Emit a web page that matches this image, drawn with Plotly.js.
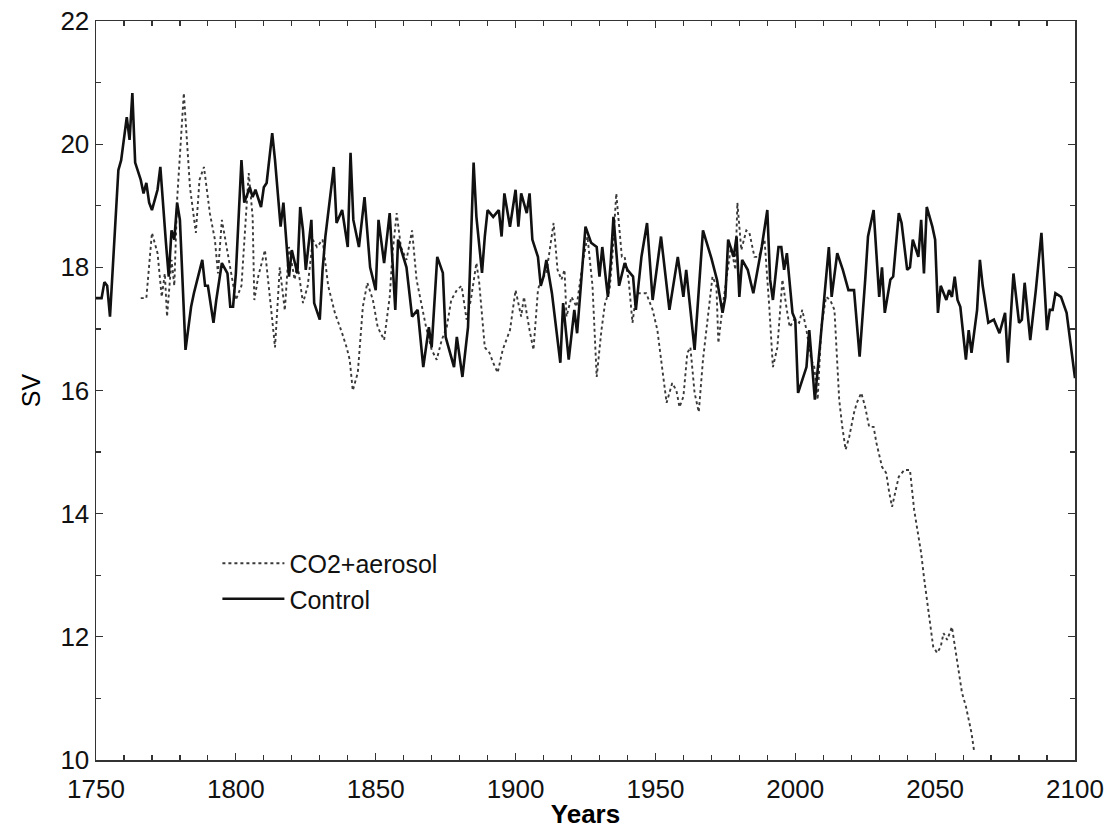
<!DOCTYPE html>
<html>
<head>
<meta charset="utf-8">
<script src="https://cdn.plot.ly/plotly-3.0.1.min.js"></script>
<style>html,body{margin:0;padding:0;background:#fff;}#chart{width:1110px;height:829px;}</style>
</head>
<body>
<div id="chart"></div>
<script>
// Control run (solid)
var controlYears = [1750,1752,1753,1754,1755,1757,1758,1759,1761,1762,1763,1764,1766,1767,1768,1769,1770,1772,1773,1775,1776,1777,1778,1779,1780,1782,1784,1785,1788,1789,1790,1792,1793,1795,1797,1798,1799,1800,1801,1802,1803,1805,1806,1807,1809,1810,1811,1813,1814,1816,1817,1819,1820,1822,1823,1824,1825,1827,1828,1830,1831,1832,1835,1836,1838,1840,1841,1842,1844,1846,1848,1850,1851,1853,1855,1857,1858,1860,1861,1863,1865,1867,1869,1870,1872,1874,1875,1878,1879,1881,1883,1885,1886,1888,1889,1890,1892,1894,1895,1896,1898,1900,1901,1902,1904,1905,1906,1908,1909,1910,1911,1913,1916,1917,1919,1921,1922,1925,1927,1929,1930,1931,1933,1934,1935,1937,1939,1940,1942,1943,1945,1947,1949,1952,1955,1958,1960,1961,1964,1967,1970,1972,1974,1975,1976,1978,1979,1980,1981,1983,1985,1988,1990,1991,1992,1994,1995,1996,1997,1999,2000,2001,2004,2005,2007,2009,2011,2012,2013,2015,2017,2019,2021,2023,2025,2026,2028,2030,2031,2032,2034,2035,2037,2038,2040,2041,2042,2044,2045,2046,2047,2049,2050,2051,2052,2054,2055,2056,2057,2058,2059,2061,2062,2063,2065,2066,2067,2069,2071,2073,2075,2076,2078,2080,2081,2082,2084,2086,2088,2090,2091,2092,2093,2095,2097,2099,2100];
var controlSV = [17.5,17.5,17.76,17.7,17.2,18.66,19.58,19.74,20.44,20.07,20.83,19.7,19.42,19.2,19.37,19.05,18.93,19.26,19.63,18.4,17.85,18.6,18.45,19.05,18.77,16.66,17.36,17.58,18.12,17.7,17.7,17.1,17.47,18.07,17.9,17.36,17.36,17.9,18.72,19.74,19.05,19.3,19.14,19.26,18.98,19.3,19.37,20.18,19.74,18.66,19.05,17.85,18.28,17.9,18.98,18.6,17.96,18.77,17.42,17.15,17.96,18.5,19.63,18.72,18.93,18.33,19.86,18.77,18.33,19.14,18.0,17.63,18.77,18.07,18.88,17.31,18.45,18.12,18.0,17.2,17.31,16.38,17.03,16.7,18.17,17.91,16.87,16.38,16.87,16.22,17.03,19.7,18.82,17.91,18.5,18.93,18.82,18.93,18.5,19.2,18.66,19.26,18.66,19.2,18.88,19.2,18.45,18.17,17.7,17.85,18.12,17.58,16.45,17.42,16.5,17.31,16.93,18.66,18.4,18.33,17.85,18.33,17.52,18.07,18.82,17.7,18.07,17.96,17.85,17.31,18.17,18.72,17.47,18.5,17.31,18.17,17.52,17.96,16.66,18.6,18.15,17.8,17.26,17.52,18.45,18.17,18.5,17.52,18.12,17.96,17.58,18.33,18.93,17.8,17.47,18.33,18.33,17.96,18.23,17.26,17.15,15.96,16.38,16.98,15.85,16.82,17.8,18.33,17.52,18.23,17.96,17.63,17.63,16.55,17.8,18.5,18.93,17.52,18.0,17.26,17.8,17.85,18.88,18.72,17.96,18.0,18.45,18.17,18.77,17.9,18.98,18.66,18.45,17.26,17.7,17.47,17.63,17.52,17.85,17.47,17.36,16.5,16.98,16.61,17.31,18.12,17.7,17.1,17.15,16.93,17.26,16.45,17.9,17.1,17.15,17.75,16.82,17.63,18.56,16.98,17.31,17.31,17.58,17.52,17.26,16.6,16.2];

// CO2+aerosol run (dotted)
var co2Years = [1766,1768,1770,1772,1773.5,1774.6,1775.4,1777,1778,1779,1781.4,1783.6,1785.7,1787,1788.6,1790.7,1792.5,1793.6,1795,1797,1799,1800,1802,1804.6,1806,1806.6,1808,1810.4,1813,1814,1815.7,1817.5,1819,1821,1822,1824,1825.7,1827.5,1829,1831,1833,1835.4,1838,1839.6,1840.7,1841.8,1843.6,1845.4,1847,1849,1850.7,1853,1855,1856,1857.5,1859,1861,1863,1864.6,1866.4,1868,1870,1871.8,1873.6,1875.4,1877,1879,1880.7,1882.5,1884,1886,1887,1889,1890.7,1892,1893.6,1895.4,1898,1900,1902,1903,1905,1906.4,1908,1909,1911,1913.6,1915,1916.4,1917.5,1918.2,1920,1921.8,1924,1925.7,1927.5,1929,1930.7,1932,1933.6,1934.6,1936,1938,1939,1940.4,1941.8,1943,1944,1946.7,1949,1950.7,1952.5,1954,1956,1957.5,1958.6,1960,1961.4,1962.5,1964,1965.5,1967,1969,1970.4,1971.8,1972.5,1974,1975.4,1977,1978.6,1979.3,1980.7,1982.5,1983.6,1985.4,1987,1989,1990.7,1992,1993.6,1995.4,1996.8,1998,1999.6,2001.4,2002.5,2004,2005.7,2006.8,2008,2009.3,2011,2012.5,2014,2015,2015.7,2016.8,2018,2019.3,2021,2022,2023.6,2025,2026.4,2028,2029,2031,2032.5,2033.6,2034.6,2035.7,2037,2039,2041,2042.5,2043.6,2045,2046,2046.8,2047.5,2048.6,2049.3,2050.7,2052,2053,2054.3,2056,2057.5,2058.6,2059.6,2061,2062,2063,2064];
var co2SV = [17.5,17.5,18.56,18.23,17.52,17.9,17.2,18.12,17.7,19.1,20.83,19.3,18.56,19.42,19.63,18.88,18.45,17.9,18.77,18.23,17.7,17.47,17.7,19.53,18.82,17.47,17.85,18.28,17.15,16.7,18.0,17.3,18.33,17.8,18.07,17.42,17.7,18.45,18.33,18.45,17.7,17.26,16.93,16.7,16.5,16.0,16.29,17.36,17.75,17.47,17.03,16.82,17.52,18.23,18.88,18.33,18.12,18.6,17.8,17.36,17.03,16.66,16.5,16.82,17.03,17.47,17.63,17.7,17.15,17.47,18.07,17.75,16.7,16.61,16.45,16.29,16.66,16.98,17.63,17.2,17.52,16.98,16.66,17.63,17.8,17.9,18.72,17.96,17.8,17.96,17.2,17.52,17.36,18.07,18.5,17.7,16.22,16.98,17.42,17.63,18.17,19.2,18.17,18.17,17.8,17.1,17.52,17.58,17.58,17.31,16.98,16.33,15.8,16.12,16.0,15.73,15.9,16.61,16.7,15.96,15.65,16.5,17.36,17.85,17.7,16.77,17.36,17.8,18.33,17.96,19.05,18.28,18.6,18.56,18.17,18.17,18.45,17.36,16.38,16.7,17.8,17.36,17.03,17.15,17.1,17.31,16.98,16.5,16.38,15.85,17.03,17.52,17.47,17.31,16.3,15.85,15.41,15.04,15.25,15.64,15.8,15.96,15.73,15.41,15.41,15.15,14.76,14.66,14.34,14.11,14.34,14.6,14.71,14.71,14.06,13.74,13.36,12.97,12.71,12.49,12.11,11.84,11.74,11.84,12.06,11.95,12.16,11.74,11.42,11.09,10.87,10.65,10.44,10.12];

var seriesNames = ['CO2+aerosol', 'Control'];
var xTickVals = [1750,1800,1850,1900,1950,2000,2050,2100];
var yTickVals = [10,12,14,16,18,20,22];

var fontFam = '"Liberation Sans", Arial, Helvetica, sans-serif';

var traces = [
  {x: co2Years, y: co2SV, name: seriesNames[0], mode: 'lines', type: 'scatter',
   line: {color: '#3a3a3a', width: 1.9, dash: 'dot'}},
  {x: controlYears, y: controlSV, name: seriesNames[1], mode: 'lines', type: 'scatter',
   line: {color: '#111111', width: 2.6}}
];

var axisCommon = {
  showline: true, linecolor: '#333', linewidth: 1.5, mirror: 'ticks',
  ticks: 'inside', ticklen: 7, tickwidth: 1.2, tickcolor: '#333',
  showgrid: false, zeroline: false,
  tickfont: {family: fontFam, size: 26, color: '#111'}
};

var layout = {
  width: 1110, height: 829,
  paper_bgcolor: '#ffffff', plot_bgcolor: '#ffffff',
  margin: {l: 96, r: 35, t: 21, b: 69},
  showlegend: true,
  legend: {x: 0.124, y: 0.297, xanchor: 'left', yanchor: 'top',
    bgcolor: 'rgba(0,0,0,0)', font: {family: fontFam, size: 25, color: '#111'},
    itemwidth: 62, tracegroupgap: 0},
  xaxis: Object.assign({}, axisCommon, {
    range: [1750, 2100], tickvals: xTickVals, ticktext: xTickVals.map(String),
    ticklabelstandoff: 5,
    minor: {dtick: 10, ticks: 'inside', ticklen: 5, tickcolor: '#333', showgrid: false},
    title: {text: '<b>Years</b>', font: {family: fontFam, size: 26, color: '#000'}, standoff: 5}
  }),
  yaxis: Object.assign({}, axisCommon, {
    range: [10, 22], tickvals: yTickVals, ticktext: yTickVals.map(String),
    minor: {dtick: 1, ticks: 'inside', ticklen: 5, tickcolor: '#333', showgrid: false},
    title: {text: 'SV', font: {family: fontFam, size: 25, color: '#000'}, standoff: 12}
  })
};

Plotly.newPlot('chart', traces, layout, {displayModeBar: false, staticPlot: true});
</script>
</body>
</html>
